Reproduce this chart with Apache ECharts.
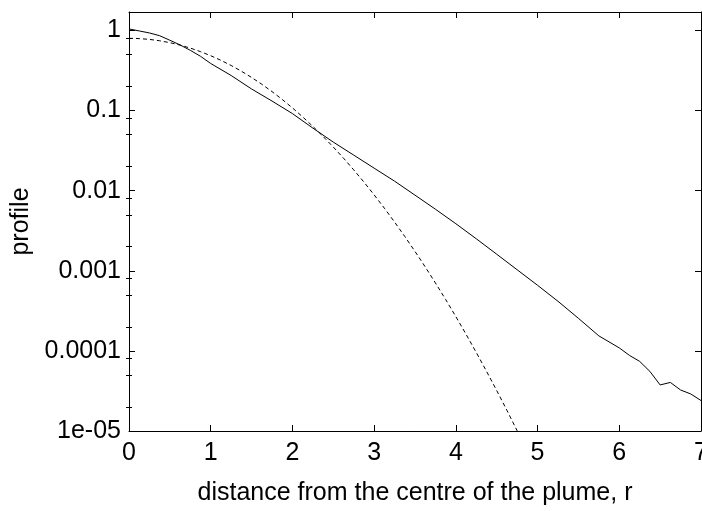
<!DOCTYPE html>
<html>
<head>
<meta charset="utf-8">
<script src="https://cdn.jsdelivr.net/npm/echarts@6/dist/echarts.min.js"></script>
<style>
html, body { margin: 0; padding: 0; background: #fff; }
#chart { width: 702px; height: 511px; }
</style>
</head>
<body>
<div id="chart"></div>
<script>
// ---- data ----
const rSolid = [0, 0.125, 0.25, 0.375, 0.5, 0.625, 0.75, 0.875, 1.0, 1.25, 1.5, 1.75, 2.0, 2.25, 2.5, 2.75, 3.0, 3.25, 3.5, 3.75, 4.0, 4.25, 4.5, 4.75, 5.0, 5.25, 5.5, 5.75, 6.0, 6.125, 6.25, 6.375, 6.5, 6.625, 6.75, 6.875, 7.0];
const solidValues = [1.044, 0.986, 0.931, 0.860, 0.755, 0.660, 0.565, 0.476, 0.387, 0.274, 0.186, 0.1315, 0.0917, 0.0604, 0.0404, 0.0278, 0.0191, 0.01315, 0.00879, 0.00587, 0.00387, 0.00251, 0.00161, 0.00103, 6.59e-4, 4.16e-4, 2.55e-4, 1.54e-4, 1.09e-4, 8.78e-5, 7.39e-5, 5.54e-5, 3.76e-5, 4.04e-5, 3.25e-5, 2.90e-5, 2.40e-5];

const rDashed = [0, 0.125, 0.25, 0.375, 0.5, 0.625, 0.75, 0.875, 1.0, 1.125, 1.25, 1.375, 1.5, 1.625, 1.75, 1.875, 2.0, 2.125, 2.25, 2.375, 2.5, 2.625, 2.75, 2.875, 3.0, 3.125, 3.25, 3.375, 3.5, 3.625, 3.75, 3.875, 4.0, 4.125, 4.25, 4.375, 4.5, 4.625, 4.75, 4.875];
const dashedValues = [0.798, 0.7918, 0.7734, 0.7438, 0.7042, 0.6564, 0.6024, 0.5442, 0.4840, 0.4238, 0.3653, 0.3101, 0.2591, 0.2131, 0.1726, 0.1376, 0.1080, 0.08346, 0.06349, 0.04755, 0.03506, 0.02546, 0.01819, 0.01280, 0.008865, 0.006047, 0.004059, 0.002683, 0.001745, 0.001118, 7.05e-4, 4.38e-4, 2.677e-4, 1.611e-4, 9.55e-5, 5.57e-5, 3.20e-5, 1.81e-5, 1.006e-5, 5.5e-6];

const xTickValues = [0, 1, 2, 3, 4, 5, 6, 7];
const xTickLabels = ['0', '1', '2', '3', '4', '5', '6', '7'];
const yTickValues = [1e-5, 1e-4, 1e-3, 1e-2, 1e-1, 1];
const yTickLabels = ['1e-05', '0.0001', '0.001', '0.01', '0.1', '1'];
const yMinorTickValues = [
  2e-5, 5e-5, 8e-5,
  2e-4, 5e-4, 8e-4,
  2e-3, 5e-3, 8e-3,
  2e-2, 5e-2, 8e-2,
  0.2, 0.5, 0.8
];
const xName = 'distance from the centre of the plume, r';
const yName = 'profile';

// ---- chart ----
const FONT = '"Liberation Sans", Arial, Helvetica, sans-serif';
const FS = 25;
const chart = echarts.init(document.getElementById('chart'), null, { renderer: 'canvas' });

function yLabel(v) {
  for (let i = 0; i < yTickValues.length; i++) {
    if (Math.abs(Math.log10(v) - Math.log10(yTickValues[i])) < 1e-6) return yTickLabels[i];
  }
  return '';
}
function xLabel(v) {
  const i = xTickValues.indexOf(Math.round(v));
  return i >= 0 ? xTickLabels[i] : '';
}

const yMin = 1e-5, yMax = 1.7;
const lineStyleAxis = { color: '#000', width: 1 };

const option = {
  animation: false,
  backgroundColor: '#fff',
  grid: { left: 129, right: 1, top: 12, bottom: 80, containLabel: false, outerBoundsMode: 'none' },
  xAxis: [
    {
      type: 'value', min: 0, max: 7, interval: 1, position: 'bottom',
      axisLine: { show: true, onZero: false, lineStyle: lineStyleAxis },
      axisTick: { show: true, inside: true, length: 6, lineStyle: lineStyleAxis },
      axisLabel: { show: true, margin: 10, color: '#000', fontSize: FS, fontFamily: FONT, formatter: xLabel, showMaxLabel: true },
      splitLine: { show: false },
      name: xName, nameLocation: 'middle', nameGap: 50,
      nameTextStyle: { color: '#000', fontSize: FS, fontFamily: FONT }
    },
    {
      type: 'value', min: 0, max: 7, interval: 1, position: 'top',
      axisLine: { show: true, onZero: false, lineStyle: lineStyleAxis },
      axisTick: { show: true, inside: true, length: 6, lineStyle: lineStyleAxis },
      axisLabel: { show: false },
      splitLine: { show: false }
    }
  ],
  yAxis: [
    {
      type: 'log', logBase: 10, min: yMin, max: yMax, position: 'left',
      axisLine: { show: true, onZero: false, lineStyle: lineStyleAxis },
      axisTick: { show: true, inside: true, length: 6, lineStyle: lineStyleAxis, customValues: yTickValues },
      axisLabel: { show: true, margin: 8, color: '#000', fontSize: FS, fontFamily: FONT, formatter: yLabel, customValues: yTickValues },
      splitLine: { show: false },
      name: yName, nameLocation: 'middle', nameGap: 92, nameRotate: 90,
      nameTextStyle: { color: '#000', fontSize: FS, fontFamily: FONT }
    },
    {
      type: 'log', logBase: 10, min: yMin, max: yMax, position: 'right',
      axisLine: { show: true, onZero: false, lineStyle: lineStyleAxis },
      axisTick: { show: true, inside: true, length: 6, lineStyle: lineStyleAxis, customValues: yTickValues },
      axisLabel: { show: false },
      splitLine: { show: false }
    },
    {
      type: 'log', logBase: 10, min: yMin, max: yMax, position: 'left',
      axisLine: { show: false },
      axisTick: { show: true, inside: true, length: 3, lineStyle: lineStyleAxis, customValues: yMinorTickValues },
      axisLabel: { show: false },
      splitLine: { show: false }
    },
    {
      type: 'log', logBase: 10, min: yMin, max: yMax, position: 'right',
      axisLine: { show: false },
      axisTick: { show: true, inside: true, length: 3, lineStyle: lineStyleAxis, customValues: yMinorTickValues },
      axisLabel: { show: false },
      splitLine: { show: false }
    }
  ],
  series: [
    {
      name: 'solid', type: 'line', xAxisIndex: 0, yAxisIndex: 0,
      data: rSolid.map((r, i) => [r, solidValues[i]]),
      showSymbol: false, symbol: 'none', clip: true,
      lineStyle: { color: '#000', width: 1 }
    },
    {
      name: 'dashed', type: 'line', xAxisIndex: 0, yAxisIndex: 0,
      data: rDashed.map((r, i) => [r, dashedValues[i]]),
      showSymbol: false, symbol: 'none', clip: true,
      lineStyle: { color: '#000', width: 1, type: [4, 3] }
    }
  ]
};
chart.setOption(option);
</script>
</body>
</html>
